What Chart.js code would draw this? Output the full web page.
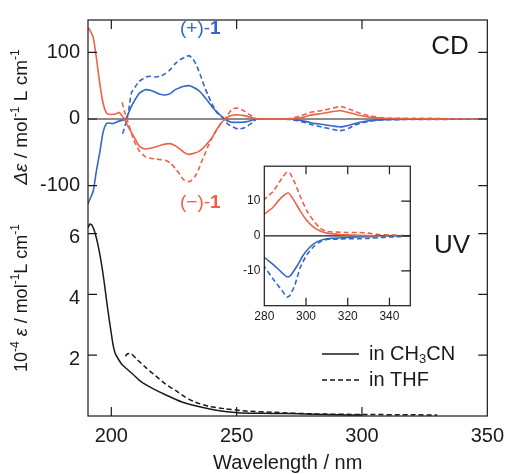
<!DOCTYPE html>
<html>
<head>
<meta charset="utf-8">
<script src="https://cdn.jsdelivr.net/npm/chart.js@4.4.1/dist/chart.umd.min.js"></script>
<style>
  body { margin: 0; background: #fff; }
  #wrap { position: relative; width: 512px; height: 474px; overflow: hidden; }
  #main { position: absolute; left: 0; top: 0; }
  #inset { position: absolute; left: 232px; top: 155px; }
</style>
</head>
<body>
<div id="wrap">
  <canvas id="main" width="512" height="474"></canvas>
  <canvas id="inset" width="186" height="172"></canvas>
</div>
<script>
const FONT = "'Liberation Sans', Arial, Helvetica, sans-serif";
const RED = '#ee6147';
const BLUE = '#3467c4';
const INK = '#1a1a1a';

// tick labels
const xTicks = [200, 250, 300, 350];
const cdTicks = [-100, 0, 100];
const uvTicks = [2, 4, 6];
const insetXTicks = [280, 300, 320, 340];
const insetYTicks = [-10, 0, 10];

// CD, (-)-1 in CH3CN (solid red)
const wlMinusCH3CN = [190.7,191.5,192.8,194,195.4,196.7,198,199,200.5,202,203,204,205.2,206.5,208,209.5,211,212.5,213.7,215.5,217.6,220,223,225,227,229,230.8,232.5,234.8,236.8,238.7,240.5,242,243.5,245.3,247,249,251,253,255,257,260,265,270,273,276,278,280,284,288,291.5,294,297.2,300.4,303.6,306.8,310,315,320,325,333];
const cdMinusCH3CN = [137,133,122,93,53,24,9,7,7,8,10,6,0,-10,-20,-30,-40,-44,-45,-44,-42,-39,-37,-39,-44,-50,-53,-52,-49,-43,-35,-26,-16,-8,0,4,6,6,5,3,1,0,0,0,0.5,2,4,6.2,8.1,10.9,12.3,10.4,7.2,4.4,2.5,1.4,0.8,0.5,0.3,0.2,0];

// CD, (-)-1 in THF (dashed red)
const wlMinusTHF = [204.3,205.2,206.2,207.5,209,211,212.5,213.7,215.5,217.6,219.5,221.5,223.5,225.5,227.3,228.8,230.8,232,233.4,234.8,236,237.4,238.7,240.5,242.6,244,245.3,246.6,248,249.3,250.6,252,253.5,255,256.5,258,262,268,272,275,278,280,284.3,288.4,290.8,292.4,294.8,297.2,300.4,303.6,306.8,310,315,320,325,330,335,340,345,348];
const cdMinusTHF = [25,12,0,-15,-32,-47,-53,-57,-59,-60,-61,-62,-66,-74,-83,-91,-94,-92,-86,-76,-64,-52,-40,-26,-13,-5,0,7,14,16,16,14,11,7,3,0,0,0,1,4,8,10.4,12.8,16.5,18.3,17.9,15,11.4,7.2,4.4,2.2,1.3,1.1,1,1,0.8,0.4,0.3,0.2,0];

// CD, (+)-1 in CH3CN (solid blue)
const wlPlusCH3CN = [190.7,191.5,192.8,194,195.4,196.7,198,199,200.5,202,203,204.5,205.7,207,208,209.5,211,212.5,213.7,215.5,217.6,219.5,221.5,223.5,225.5,227.3,229,230.8,232.5,234.8,236.8,238.7,240.5,242.6,244,245.3,246.6,248,250,252,254,256,258,262,268,272,275,278,280,284.3,288.4,290.8,292.4,295.6,298.8,302,305.2,308.4,312,318,325,333];
const cdPlusCH3CN = [-127,-120,-108,-79,-50,-20,-7,-6,-7,-5,-3,-2,0,10,19,29,38,42,44,43,40,37,36,38,44,47,49,50,48,43,35,26,17,9,4,0,-3,-5,-5,-5,-4,-2,0,0,0,-0.5,-2,-4,-6.1,-8.2,-10.5,-11.7,-11.5,-8.7,-5.4,-3.1,-1.7,-1,-0.7,-0.5,-0.3,-0.2];

// CD, (+)-1 in THF (dashed blue)
const wlPlusTHF = [204.5,205.5,206.3,207.2,208,209.5,211,212.5,213.7,215.5,217.6,219.5,221.5,223.5,225.5,227.5,229.5,231,232,233.4,234.8,236,237.4,238.7,240,242,244,245.3,246.6,248.5,250.6,252.5,254.5,256.5,258,262,268,272,275,278,280,284.3,288.4,290.8,292.4,294.8,297.2,300.4,303.6,306.8,310,315,320,325,330,335,340,345,348];
const cdPlusTHF = [-22,-10,0,20,39,48,56,60,63,64,63,64,68,74,83,89,93,95,92,85,73,61,46,35,24,10,4,-2,-8,-12,-15,-14,-10,-5,0,0,0,-1,-3,-6,-8.7,-12.4,-15.6,-17.5,-17,-13.8,-9.1,-5.4,-3.1,-1.7,-1,-0.9,-0.8,-0.8,-0.7,-0.5,-0.3,-0.2,0];

// UV (10^-4 eps)
const wlUvCH3CN = [190.7,191.5,192.3,193.2,194.1,195,196,197,197.8,198.6,199.3,200.2,200.8,201.6,202.6,204,205.2,208.5,211.1,212.4,216.4,221.6,228.2,234.8,241.3,250.5,260,270,280,290,300];
const uvCH3CN = [6.2,6.32,6.28,6.1,5.84,5.5,5.05,4.5,4.0,3.5,3.1,2.6,2.3,2.05,1.9,1.72,1.62,1.38,1.18,1.1,0.91,0.7,0.46,0.31,0.2,0.11,0.09,0.08,0.06,0.04,0.03];
const wlUvTHF = [205.6,206.5,207.9,209.8,213.8,217.7,221.6,225.6,229.5,233.4,238.7,245.2,254.4,265,280,300,320,330];
const uvTHF = [1.97,2.05,2.05,1.9,1.59,1.32,1.05,0.84,0.62,0.46,0.32,0.24,0.16,0.12,0.07,0.05,0.04,0.03];

const pts = (xs, ys) => xs.map((x, i) => ({x: x, y: ys[i]}));

function line(xs, ys, color, dashed, axis, width) {
  return {
    data: pts(xs, ys),
    borderColor: color,
    borderWidth: width || 1.6,
    borderDash: dashed ? [5, 3] : [],
    pointRadius: 0,
    tension: 0.2,
    fill: false,
    yAxisID: axis
  };
}

// text with super/subscripts, optionally rotated
function richText(ctx, parts, x, y, size, color, rot, align) {
  const fontOf = p => (p.italic ? 'italic ' : '') + (p.bold ? 'bold ' : '') +
    ((p.sup || p.sub) ? Math.round(size * 0.65) : size) + 'px ' + FONT;
  let w = 0;
  parts.forEach(p => { ctx.font = fontOf(p); w += ctx.measureText(p.t).width; });
  ctx.save();
  ctx.translate(x, y);
  if (rot) ctx.rotate(rot);
  ctx.fillStyle = color;
  ctx.textBaseline = 'middle';
  ctx.textAlign = 'left';
  let cx = align === 'center' ? -w / 2 : 0;
  parts.forEach(p => {
    ctx.font = fontOf(p);
    const dy = p.sup ? -size * 0.33 : (p.sub ? size * 0.25 : 0);
    ctx.fillText(p.t, cx, dy);
    cx += ctx.measureText(p.t).width;
  });
  ctx.restore();
}

const mainDecor = {
  id: 'mainDecor',
  beforeDatasetsDraw(chart) {
    const {ctx, chartArea: a, scales} = chart;
    const y0 = scales.yCD.getPixelForValue(0);
    ctx.save();
    ctx.strokeStyle = INK;
    ctx.lineWidth = 1.2;
    ctx.beginPath();
    ctx.moveTo(a.left, y0);
    ctx.lineTo(a.right, y0);
    ctx.stroke();
    ctx.restore();
  },
  afterDraw(chart) {
    const {ctx, chartArea: a, scales} = chart;
    ctx.save();
    ctx.strokeStyle = INK;
    ctx.lineWidth = 1.2;
    ctx.strokeRect(a.left, a.top, a.width, a.height);
    ctx.beginPath();
    xTicks.forEach(v => {
      const px = scales.x.getPixelForValue(v);
      if (px <= a.left + 1 || px >= a.right - 1) return;
      ctx.moveTo(px, a.top); ctx.lineTo(px, a.top + 9);
      ctx.moveTo(px, a.bottom); ctx.lineTo(px, a.bottom - 9);
    });
    const ys = cdTicks.map(v => scales.yCD.getPixelForValue(v))
      .concat(uvTicks.map(v => scales.yUV.getPixelForValue(v)));
    ys.forEach(py => {
      ctx.moveTo(a.left, py); ctx.lineTo(a.left + 9, py);
      ctx.moveTo(a.right, py); ctx.lineTo(a.right - 9, py);
    });
    ctx.stroke();

    // UV tick labels, placed with the UV scale
    ctx.fillStyle = INK;
    ctx.font = '20px ' + FONT;
    ctx.textAlign = 'right';
    ctx.textBaseline = 'middle';
    uvTicks.forEach(v => ctx.fillText(String(v), a.left - 8, scales.yUV.getPixelForValue(v) + 4));

    // panel labels
    ctx.font = '26px ' + FONT;
    ctx.textAlign = 'center';
    ctx.fillText('CD', 450, 47);
    ctx.fillText('UV', 452, 246);

    richText(ctx, [{t: '(+)-'}, {t: '1', bold: true}], 180, 29, 19, BLUE);
    richText(ctx, [{t: '(\u2212)-'}, {t: '1', bold: true}], 180, 203, 19, RED);

    // legend
    ctx.strokeStyle = INK;
    ctx.lineWidth = 1.6;
    ctx.beginPath();
    ctx.moveTo(322, 354); ctx.lineTo(359, 354);
    ctx.stroke();
    ctx.setLineDash([5, 3]);
    ctx.beginPath();
    ctx.moveTo(322, 380); ctx.lineTo(359, 380);
    ctx.stroke();
    ctx.setLineDash([]);
    richText(ctx, [{t: 'in CH'}, {t: '3', sub: true}, {t: 'CN'}], 369, 354, 20, INK);
    richText(ctx, [{t: 'in THF'}], 369, 380, 20, INK);

    // y axis titles
    richText(ctx, [{t: '\u0394\u03b5', italic: true}, {t: ' / mol'}, {t: '-1', sup: true},
      {t: ' L cm'}, {t: '-1', sup: true}], 22, 117, 19, INK, -Math.PI / 2, 'center');
    richText(ctx, [{t: '10'}, {t: '-4', sup: true}, {t: ' '}, {t: '\u03b5', italic: true},
      {t: ' / mol'}, {t: '-1', sup: true}, {t: 'L cm'}, {t: '-1', sup: true}],
      22, 298, 18, INK, -Math.PI / 2, 'center');
    ctx.restore();
  }
};

new Chart(document.getElementById('main'), {
  type: 'line',
  data: {
    datasets: [
      line(wlMinusCH3CN, cdMinusCH3CN, RED, false, 'yCD'),
      line(wlMinusTHF, cdMinusTHF, RED, true, 'yCD'),
      line(wlPlusCH3CN, cdPlusCH3CN, BLUE, false, 'yCD'),
      line(wlPlusTHF, cdPlusTHF, BLUE, true, 'yCD'),
      line(wlUvCH3CN, uvCH3CN, INK, false, 'yUV', 1.5),
      line(wlUvTHF, uvTHF, INK, true, 'yUV', 1.5)
    ]
  },
  options: {
    responsive: false,
    animation: false,
    layout: {padding: {left: 0, right: 20, top: 12, bottom: 0}},
    plugins: {legend: {display: false}, tooltip: {enabled: false}},
    scales: {
      x: {
        type: 'linear', position: 'bottom', min: 190.7, max: 350,
        afterBuildTicks: s => { s.ticks = xTicks.map(v => ({value: v})); },
        afterFit: s => { s.height = 58; },
        grid: {display: false, drawTicks: false},
        border: {display: false},
        ticks: {font: {size: 20, family: FONT}, color: INK, padding: 8, maxRotation: 0, autoSkip: false},
        title: {display: true, text: 'Wavelength / nm', color: INK,
          font: {size: 20, family: FONT, lineHeight: 1}, padding: {top: 0, bottom: 1}}
      },
      yCD: {
        type: 'linear', position: 'left', min: -445.6, max: 148.5,
        afterBuildTicks: s => { s.ticks = cdTicks.map(v => ({value: v})); },
        afterFit: s => { s.width = 88; },
        grid: {display: false, drawTicks: false},
        border: {display: false},
        ticks: {font: {size: 20, family: FONT}, color: INK, padding: 8, autoSkip: false,
          callback: v => String(v)}
      },
      yUV: {
        type: 'linear', position: 'left', display: false, min: 0, max: 13.03
      }
    }
  },
  plugins: [mainDecor]
});

const insetDecor = {
  id: 'insetDecor',
  beforeDatasetsDraw(chart) {
    const {ctx, chartArea: a, scales} = chart;
    const y0 = scales.y.getPixelForValue(0);
    ctx.save();
    ctx.strokeStyle = INK;
    ctx.lineWidth = 1.2;
    ctx.beginPath();
    ctx.moveTo(a.left, y0);
    ctx.lineTo(a.right, y0);
    ctx.stroke();
    ctx.restore();
  },
  afterDraw(chart) {
    const {ctx, chartArea: a, scales} = chart;
    ctx.save();
    ctx.strokeStyle = INK;
    ctx.lineWidth = 1.2;
    ctx.strokeRect(a.left, a.top, a.width, a.height);
    ctx.beginPath();
    insetXTicks.forEach(v => {
      const px = scales.x.getPixelForValue(v);
      if (px <= a.left + 1) return;
      ctx.moveTo(px, a.top); ctx.lineTo(px, a.top + 8);
      ctx.moveTo(px, a.bottom); ctx.lineTo(px, a.bottom - 8);
    });
    insetYTicks.forEach(v => {
      const py = scales.y.getPixelForValue(v);
      ctx.moveTo(a.right, py); ctx.lineTo(a.right - 9, py);
    });
    ctx.stroke();
    ctx.restore();
  }
};

new Chart(document.getElementById('inset'), {
  type: 'line',
  data: {
    datasets: [
      line(wlMinusCH3CN, cdMinusCH3CN, RED, false, 'y'),
      line(wlMinusTHF, cdMinusTHF, RED, true, 'y'),
      line(wlPlusCH3CN, cdPlusCH3CN, BLUE, false, 'y'),
      line(wlPlusTHF, cdPlusTHF, BLUE, true, 'y')
    ]
  },
  options: {
    responsive: false,
    animation: false,
    layout: {padding: {left: 0, right: 7.7, top: 7.3, bottom: 0}},
    plugins: {legend: {display: false}, tooltip: {enabled: false}},
    scales: {
      x: {
        type: 'linear', position: 'bottom', min: 280, max: 350,
        afterBuildTicks: s => { s.ticks = insetXTicks.map(v => ({value: v})); },
        afterFit: s => { s.height = 21.3; },
        grid: {display: false, drawTicks: false},
        border: {display: false},
        ticks: {font: {size: 12, family: FONT}, color: INK, padding: 4, maxRotation: 0, autoSkip: false}
      },
      y: {
        type: 'linear', position: 'left', min: -20, max: 20,
        afterBuildTicks: s => { s.ticks = insetYTicks.map(v => ({value: v})); },
        afterFit: s => { s.width = 32.3; },
        grid: {display: false, drawTicks: false},
        border: {display: false},
        ticks: {font: {size: 12, family: FONT}, color: INK, padding: 4, autoSkip: false,
          callback: v => String(v)}
      }
    }
  },
  plugins: [insetDecor]
});
</script>
</body>
</html>
